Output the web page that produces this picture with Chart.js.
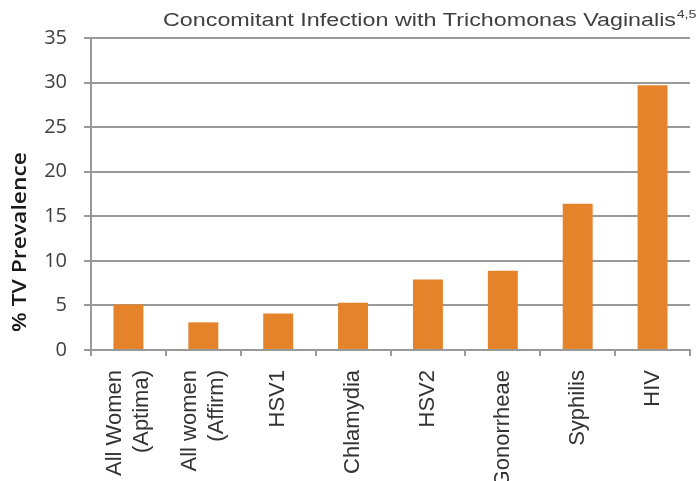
<!DOCTYPE html>
<html>
<head>
<meta charset="utf-8">
<script src="https://cdn.jsdelivr.net/npm/chart.js@4"></script>
<style>
  html, body { margin: 0; padding: 0; background: #fff; overflow: hidden; }
  canvas { display: block; }
</style>
</head>
<body>
<canvas id="tvChart" width="700" height="481"></canvas>
<script>
// Concomitant infection with Trichomonas vaginalis - % TV prevalence

const categories = [
    ['All Women', '(Aptima)'],
    ['All women', '(Affirm)'],
    'HSV1',
    'Chlamydia',
    'HSV2',
    'Gonorrheae',
    'Syphilis',
    'HIV'
];
const prevalence = [5.1, 3.1, 4.1, 5.3, 7.9, 8.9, 16.4, 29.7];
const yMin = 0;
const yMax = 35;
const yStep = 5;

const titleText = 'Concomitant Infection with Trichomonas Vaginalis';
const titleSup = '4,5';
const yTitleText = '% TV Prevalence';

const gridColor = '#999999';
const barColor = '#E4832A';

// Title and y axis title are drawn by hand (superscript + stretched look)
const textPlugin = {
    id: 'textPlugin',
    beforeDraw(chart) {
        // center the two-line rotated labels on their tick
        const xScale = chart.scales.x;
        xScale.getLabelItems().forEach(item => {
            if (Array.isArray(item.label) && !item._centered) {
                const lh = item.font.lineHeight;
                item.options.translation[0] -= lh * (item.label.length - 1) / 2;
                item._centered = true;
            }
        });
    },
    afterDraw(chart) {
        const ctx = chart.ctx;

        // chart title, right part of the top strip
        ctx.save();
        ctx.fillStyle = '#404040';
        ctx.textBaseline = 'alphabetic';
        ctx.textAlign = 'left';
        ctx.font = '18px "Liberation Sans", Arial, sans-serif';
        const w = ctx.measureText(titleText).width;
        const sx = 513 / w;
        ctx.translate(163, 26);
        ctx.scale(sx, 1);
        ctx.fillText(titleText, 0, 0);
        ctx.font = '11px "Liberation Sans", Arial, sans-serif';
        ctx.fillText(titleSup, w + 0.5, -8);
        ctx.restore();

        // y axis title
        ctx.save();
        ctx.fillStyle = '#1a1a1a';
        ctx.font = '600 19px "Open Sans", sans-serif';
        ctx.textAlign = 'center';
        ctx.textBaseline = 'alphabetic';
        const yw = ctx.measureText(yTitleText).width;
        ctx.translate(26, 242);
        ctx.rotate(-Math.PI / 2);
        ctx.scale(180 / yw, 1);
        ctx.fillText(yTitleText, 0, 0);
        ctx.restore();
    }
};

const ctx = document.getElementById('tvChart');

new Chart(ctx, {
    type: 'bar',
    data: {
        labels: categories,
        datasets: [{
            label: '% TV Prevalence',
            data: prevalence,
            backgroundColor: barColor,
            borderWidth: 0,
            categoryPercentage: 1,
            barPercentage: 0.4
        }]
    },
    options: {
        responsive: false,
        animation: false,
        devicePixelRatio: 1,
        layout: {
            padding: { top: 38, right: 10, left: 0, bottom: 0 }
        },
        plugins: {
            legend: { display: false },
            title: { display: false },
            tooltip: { enabled: false }
        },
        scales: {
            x: {
                afterFit: function(scale) {
                    scale.height = 131;
                },
                grid: {
                    display: true,
                    drawOnChartArea: false,
                    drawTicks: true,
                    tickLength: 6,
                    color: gridColor,
                    lineWidth: 2,
                    offset: true
                },
                border: {
                    display: true,
                    color: gridColor,
                    width: 2
                },
                ticks: {
                    minRotation: 90,
                    maxRotation: 90,
                    autoSkip: false,
                    padding: 14,
                    color: '#333333',
                    font: {
                        family: '"Liberation Sans", Arial, sans-serif',
                        size: 22
                    }
                }
            },
            y: {
                min: yMin,
                max: yMax,
                afterFit: function(scale) {
                    scale.width = 91;
                },
                grid: {
                    color: gridColor,
                    lineWidth: 2,
                    drawTicks: true,
                    tickLength: 7
                },
                border: {
                    display: true,
                    color: gridColor,
                    width: 2
                },
                ticks: {
                    stepSize: yStep,
                    padding: 17,
                    color: '#404040',
                    font: {
                        family: '"Open Sans", sans-serif',
                        size: 20
                    }
                }
            }
        }
    },
    plugins: [textPlugin]
});
</script>
</body>
</html>
